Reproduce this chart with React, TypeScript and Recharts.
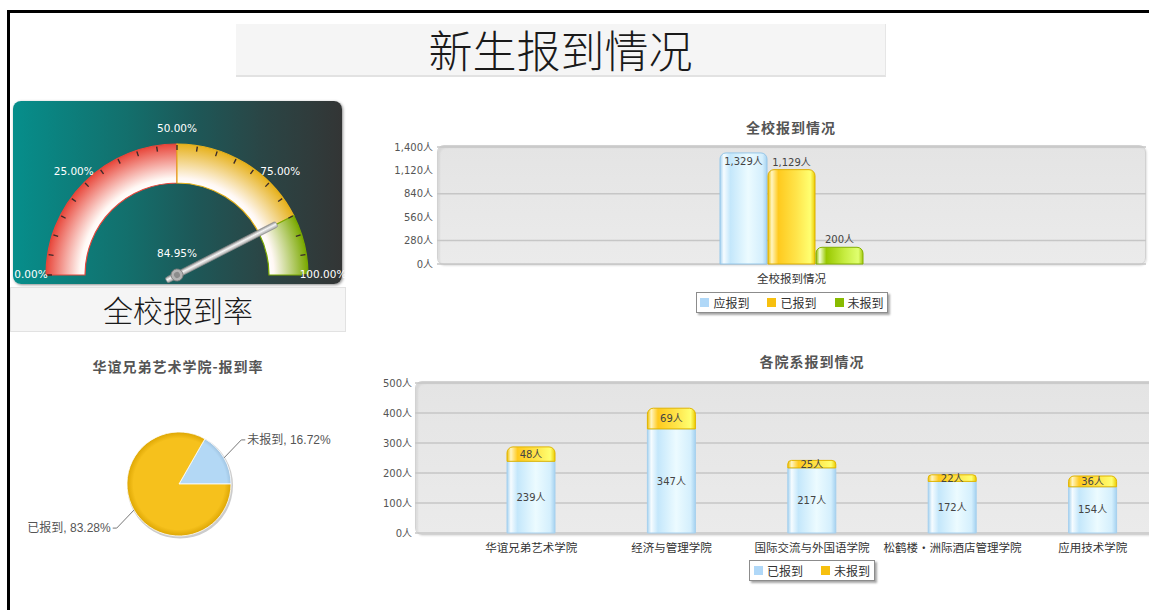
import React from 'react';
import {
  PieChart, Pie, Cell, BarChart, Bar, XAxis, YAxis, CartesianGrid, LabelList, Legend,
} from 'recharts';

// ---------- data ----------
const PAGE_TITLE = '新生报到情况';
const GAUGE_TITLE = '全校报到率';
const GAUGE_VALUE = 84.95;
const GAUGE_BAND_VALUES = [50, 35, 15];
const GAUGE_BAND_COLORS = ['#e8463a', '#e6b11c', '#7aa900'];
const GAUGE_TICK_VALUES = [0, 5, 10, 15, 20, 25, 30, 35, 40, 45, 50, 55, 60, 65, 70, 75, 80, 85, 90, 95, 100];
const GAUGE_LABELS = ['0.00%', '25.00%', '50.00%', '75.00%', '100.00%'];

const PIE_TITLE = '华谊兄弟艺术学院-报到率';
const PIE_NAMES = ['未报到', '已报到'];
const PIE_VALUES = [16.72, 83.28];

const OVERALL_TITLE = '全校报到情况';
const OVERALL_CATEGORIES = ['全校报到情况'];
const OVERALL_SERIES = ['应报到', '已报到', '未报到'];
const OVERALL_EXPECTED = [1329];
const OVERALL_REGISTERED = [1129];
const OVERALL_MISSING = [200];
const OVERALL_TICKS = [0, 280, 560, 840, 1120, 1400];
const OVERALL_LEGEND_COLORS = ['#b0d8f8', '#f7c00f', '#88bb00'];

const COLLEGE_TITLE = '各院系报到情况';
const COLLEGES = ['华谊兄弟艺术学院', '经济与管理学院', '国际交流与外国语学院', '松鹤楼·洲际酒店管理学院', '应用技术学院'];
const COLLEGE_SERIES = ['已报到', '未报到'];
const COLLEGE_REGISTERED = [239, 347, 217, 172, 154];
const COLLEGE_MISSING = [48, 69, 25, 22, 36];
const COLLEGE_TICKS = [0, 100, 200, 300, 400, 500];
const COLLEGE_LEGEND_COLORS = ['#b0d8f8', '#f7c00f'];

// ---------- derived tables ----------
const gaugeBands = GAUGE_BAND_VALUES.map((v, i) => ({ name: `band${i}`, value: v }));
const TICK_W = 0.35;
const tickPieData: { value: number; tick: number | null }[] = [];
GAUGE_TICK_VALUES.forEach((t, i) => {
  tickPieData.push({ value: TICK_W, tick: t });
  if (i < GAUGE_TICK_VALUES.length - 1) {
    tickPieData.push({ value: GAUGE_TICK_VALUES[i + 1] - t - TICK_W, tick: null });
  }
});
const needleData = [
  { value: GAUGE_VALUE - 0.5 },
  { value: 1 },
  { value: 100 - GAUGE_VALUE - 0.5 },
];
const pieData = PIE_NAMES.map((n, i) => ({ name: n, value: PIE_VALUES[i] }));
const overallData = OVERALL_CATEGORIES.map((c, i) => ({
  name: c,
  [OVERALL_SERIES[0]]: OVERALL_EXPECTED[i],
  [OVERALL_SERIES[1]]: OVERALL_REGISTERED[i],
  [OVERALL_SERIES[2]]: OVERALL_MISSING[i],
}));
const collegeData = COLLEGES.map((c, i) => ({
  name: c,
  [COLLEGE_SERIES[0]]: COLLEGE_REGISTERED[i],
  [COLLEGE_SERIES[1]]: COLLEGE_MISSING[i],
}));

// ---------- helpers ----------
const RAD = Math.PI / 180;
const polar = (cx: number, cy: number, r: number, a: number) => ({
  x: cx + r * Math.cos(-a * RAD),
  y: cy + r * Math.sin(-a * RAD),
});
const NUM_FONT = "'DejaVu Sans', 'Noto Sans CJK SC', sans-serif";
const CJK_FONT = "'Noto Sans CJK SC', 'DejaVu Sans', sans-serif";
const fmtPeople = (v: any) => `${Number(v).toLocaleString('en-US')}人`;
const ZERO_MARGIN = { top: 0, right: 0, bottom: 0, left: 0 };

const renderTickLabel = (props: any) => {
  const d = tickPieData[props.index];
  if (!d || d.tick === null || d.tick % 25 !== 0) return null;
  const p = polar(props.cx, props.cy, 146, props.midAngle);
  return (
    <text key={`tl${props.index}`} x={p.x} y={p.y - 1} textAnchor="middle" dominantBaseline="central"
      fill="#ffffff" fontSize={10.5} fontFamily={NUM_FONT}>
      {GAUGE_LABELS[d.tick / 25]}
    </text>
  );
};

const renderNeedle = (props: any) => {
  if (props.index !== 1) return null;
  const { cx, cy, midAngle } = props;
  return (
    <g key="needle">
      <text x={cx} y={cy - 22} textAnchor="middle" dominantBaseline="central" fill="#ffffff"
        fontSize={10.5} fontFamily={NUM_FONT}>{`${GAUGE_VALUE.toFixed(2)}%`}</text>
      <g transform={`translate(${cx},${cy}) rotate(${-midAngle})`}>
        <rect x={-12} y={-3} width={124} height={6} rx={2} fill="url(#needleGrad)" stroke="#8a8a8a" strokeWidth={0.6} />
        <circle r={6} fill="#b4b4b4" stroke="#7a7a7a" strokeWidth={0.8} />
        <circle r={3} fill="#8c8c8c" />
      </g>
    </g>
  );
};

const renderPieLabel = (props: any) => {
  const { cx, cy, midAngle, outerRadius, index } = props;
  const p0 = polar(cx, cy, outerRadius, midAngle);
  const p1 = polar(cx, cy, outerRadius + 20, midAngle);
  const up = p1.y < cy;
  const y1 = p1.y + (up ? -8 : 8);
  const right = Math.cos(-midAngle * RAD) >= 0;
  const x2 = p1.x + (right ? 4 : -4);
  return (
    <g key={`pl${index}`}>
      <polyline points={`${p0.x},${p0.y} ${p1.x},${y1} ${x2},${y1}`} fill="none" stroke="#777" strokeWidth={1} />
      <text x={x2 + (right ? 2 : -2)} y={y1} textAnchor={right ? 'start' : 'end'} dominantBaseline="central"
        fill="#555" fontSize={12} fontFamily="'Liberation Sans', 'Noto Sans CJK SC', sans-serif">
        {`${PIE_NAMES[index]}, ${PIE_VALUES[index].toFixed(2)}%`}
      </text>
    </g>
  );
};

const LegendBox = ({ names, colors, width }: { names: string[]; colors: string[]; width: number }) => (
  <div style={{
    display: 'flex', alignItems: 'center', justifyContent: 'center', gap: 18, height: 21, width,
    border: '1px solid #8c8c8c', boxShadow: '2px 2px 2px rgba(0,0,0,0.35)', background: '#fff',
    fontFamily: CJK_FONT, fontSize: 12, color: '#333', boxSizing: 'border-box',
  }}>
    {names.map((n, i) => (
      <div key={n} style={{ display: 'flex', alignItems: 'center' }}>
        <span style={{ display: 'inline-block', width: 9, height: 9, background: colors[i], marginRight: 4 }} />
        <span>{n}</span>
      </div>
    ))}
  </div>
);

const BarGradients = () => (
  <defs>
    <linearGradient id="gBlue" x1="0" y1="0" x2="1" y2="0">
      <stop offset="0" stopColor="#a6d2f0" />
      <stop offset="0.08" stopColor="#f6fcff" />
      <stop offset="0.22" stopColor="#c4e7fb" />
      <stop offset="0.6" stopColor="#ecfbff" />
      <stop offset="0.9" stopColor="#d4effd" />
      <stop offset="1" stopColor="#a6d2f0" />
    </linearGradient>
    <linearGradient id="gYellow" x1="0" y1="0" x2="1" y2="0">
      <stop offset="0" stopColor="#efbf00" />
      <stop offset="0.08" stopColor="#fff5c0" />
      <stop offset="0.22" stopColor="#ffca1e" />
      <stop offset="0.6" stopColor="#ffe44a" />
      <stop offset="0.9" stopColor="#ffff70" />
      <stop offset="1" stopColor="#eccc00" />
    </linearGradient>
    <linearGradient id="gGreen" x1="0" y1="0" x2="1" y2="0">
      <stop offset="0" stopColor="#8cb800" />
      <stop offset="0.08" stopColor="#f2ffd0" />
      <stop offset="0.22" stopColor="#98c800" />
      <stop offset="0.6" stopColor="#c6ec40" />
      <stop offset="0.9" stopColor="#e0ff70" />
      <stop offset="1" stopColor="#a4c810" />
    </linearGradient>
  </defs>
);

const plotBg = (left: number, top: number, width: number, height: number): React.CSSProperties => ({
  position: 'absolute', left, top, width, height, borderRadius: 7, boxSizing: 'border-box',
  background: 'linear-gradient(#e4e4e4, #ebebeb)', border: '1px solid #d2d2d2',
  boxShadow: 'inset 2px 2px 2px rgba(0,0,0,0.06), 1px 1px 2px rgba(0,0,0,0.12)',
});

const titleStyle = (left: number, top: number, width: number): React.CSSProperties => ({
  position: 'absolute', left, top, width, textAlign: 'center', fontFamily: CJK_FONT,
  fontWeight: 'bold', fontSize: 14, letterSpacing: 1, color: '#555', lineHeight: '18px',
});

export default function App() {
  const GCX = 177;
  const GCY = 180;
  return (
    <div style={{ position: 'relative', width: 1149, height: 610, overflow: 'hidden', background: '#fff' }}>
      <style>{'body{margin:0;overflow:hidden}'}</style>
      <div style={{ position: 'absolute', left: 7, top: 10, width: 2000, height: 2000, borderTop: '3px solid #000', borderLeft: '3px solid #000' }} />

      {/* page title */}
      <div style={{
        position: 'absolute', left: 236, top: 24, width: 650, height: 53, background: '#f5f5f5',
        borderBottom: '2px solid #e2e2e2', borderRight: '1px solid #e6e6e6', boxSizing: 'border-box',
        textAlign: 'center', fontFamily: CJK_FONT, fontWeight: 300, fontSize: 44, lineHeight: '51px', color: '#1a1a1a',
      }}>{PAGE_TITLE}</div>

      {/* gauge */}
      <div style={{
        position: 'absolute', left: 13, top: 101, width: 329, height: 183, borderRadius: 8,
        background: 'linear-gradient(to right, #068e8b 0%, #136f6c 35%, #1d5858 55%, #2a4646 75%, #333535 100%)',
        boxShadow: '1px 1px 3px rgba(0,0,0,0.45)',
      }} />
      <div style={{ position: 'absolute', left: 0, top: 95 }}>
        <PieChart width={360} height={195} margin={ZERO_MARGIN}>
          <defs>
            {GAUGE_BAND_COLORS.map((c, i) => (
              <radialGradient key={c} id={`band${i}`} gradientUnits="userSpaceOnUse" cx={GCX} cy={GCY} r={131}>
                <stop offset="0.7" stopColor="#ffffff" />
                <stop offset="0.74" stopColor="#fff8f4" />
                <stop offset="1" stopColor={c} />
              </radialGradient>
            ))}
            <linearGradient id="needleGrad" x1="0" y1="0" x2="0" y2="1">
              <stop offset="0" stopColor="#8e8e8e" />
              <stop offset="0.45" stopColor="#f6f6f6" />
              <stop offset="1" stopColor="#a2a2a2" />
            </linearGradient>
          </defs>
          <Pie data={gaugeBands} dataKey="value" cx={GCX} cy={GCY} startAngle={180} endAngle={0}
            innerRadius={92} outerRadius={131} isAnimationActive={false}>
            {gaugeBands.map((b, i) => (
              <Cell key={b.name} fill={`url(#band${i})`} stroke={GAUGE_BAND_COLORS[i]} strokeWidth={1.2} />
            ))}
          </Pie>
          <Pie data={tickPieData} dataKey="value" cx={GCX} cy={GCY}
            startAngle={180 + (TICK_W / 2) * 1.8} endAngle={-(TICK_W / 2) * 1.8}
            innerRadius={125} outerRadius={130} isAnimationActive={false}
            label={renderTickLabel} labelLine={false}>
            {tickPieData.map((d, i) => (
              <Cell key={`t${i}`} fill={d.tick === null ? 'transparent' : '#3a2a2a'} stroke="none" />
            ))}
          </Pie>
          <Pie data={needleData} dataKey="value" cx={GCX} cy={GCY} startAngle={180} endAngle={0}
            innerRadius={0} outerRadius={20} isAnimationActive={false}
            label={renderNeedle} labelLine={false}>
            {needleData.map((d, i) => (
              <Cell key={`n${i}`} fill="transparent" stroke="none" />
            ))}
          </Pie>
        </PieChart>
      </div>
      <div style={{
        position: 'absolute', left: 10, top: 287, width: 336, height: 45, background: '#f5f5f5',
        border: '1px solid #e2e2e2', boxSizing: 'border-box', textAlign: 'center',
        fontFamily: CJK_FONT, fontWeight: 300, fontSize: 30, lineHeight: '43px', color: '#1a1a1a',
      }}>{GAUGE_TITLE}</div>

      {/* college pie */}
      <div style={titleStyle(28, 357, 300)}>{PIE_TITLE}</div>
      <div style={{ position: 'absolute', left: 0, top: 345 }}>
        <PieChart width={360} height={240} margin={ZERO_MARGIN}>
          <defs>
            <radialGradient id="pieYellow" gradientUnits="userSpaceOnUse" cx={179} cy={139} r={53}>
              <stop offset="0.86" stopColor="#f6c11c" />
              <stop offset="1" stopColor="#d9a200" />
            </radialGradient>
            <radialGradient id="pieBlue" gradientUnits="userSpaceOnUse" cx={179} cy={139} r={53}>
              <stop offset="0.9" stopColor="#b3d8f5" />
              <stop offset="1" stopColor="#9cbfdc" />
            </radialGradient>
          </defs>
          <Pie data={[{ value: 1 }]} dataKey="value" cx={180} cy={140.5} outerRadius={53}
            isAnimationActive={false} stroke="none" fill="#cccccc" />
          <Pie data={pieData} dataKey="value" cx={179} cy={139} startAngle={0} endAngle={360}
            outerRadius={52} isAnimationActive={false} label={renderPieLabel} labelLine={false}>
            {pieData.map((d, i) => (
              <Cell key={d.name} fill={i === 0 ? 'url(#pieBlue)' : 'url(#pieYellow)'} stroke="#ffffff" strokeWidth={0.8} />
            ))}
          </Pie>
        </PieChart>
      </div>

      {/* overall bar chart */}
      <div style={titleStyle(641, 118, 300)}>{OVERALL_TITLE}</div>
      <div style={plotBg(437, 145, 709, 120)} />
      <div style={{ position: 'absolute', left: 380, top: 110 }}>
        <BarChart width={770} height={210} data={overallData} barGap={1}
          margin={{ top: 37, right: 4, bottom: 0, left: 0 }}>
          <BarGradients />
          <CartesianGrid vertical={false} stroke="#c6c6c6" strokeWidth={1.5} />
          <XAxis dataKey="name" height={56} axisLine={false} tickLine={false} tickMargin={5}
            tick={{ fontSize: 11.5, fill: '#333', fontFamily: CJK_FONT }} />
          <YAxis width={57} domain={[0, 1400]} ticks={OVERALL_TICKS} axisLine={false} tickLine={false}
            tickSize={2} tickMargin={2} tickFormatter={fmtPeople}
            tick={{ fontSize: 10, fill: '#555', fontFamily: NUM_FONT }} />
          <Bar dataKey={OVERALL_SERIES[0]} barSize={47} fill="url(#gBlue)" stroke="#95c6e8" radius={[6, 6, 0, 0]} isAnimationActive={false}>
            <LabelList dataKey={OVERALL_SERIES[0]} position="insideTop" offset={5} formatter={fmtPeople}
              fill="#444" fontSize={10} fontFamily={NUM_FONT} />
          </Bar>
          <Bar dataKey={OVERALL_SERIES[1]} barSize={47} fill="url(#gYellow)" stroke="#dcae00" radius={[6, 6, 0, 0]} isAnimationActive={false}>
            <LabelList dataKey={OVERALL_SERIES[1]} position="top" offset={4} formatter={fmtPeople}
              fill="#444" fontSize={10} fontFamily={NUM_FONT} />
          </Bar>
          <Bar dataKey={OVERALL_SERIES[2]} barSize={47} fill="url(#gGreen)" stroke="#84b000" radius={[6, 6, 0, 0]} isAnimationActive={false}>
            <LabelList dataKey={OVERALL_SERIES[2]} position="top" offset={4} formatter={fmtPeople}
              fill="#444" fontSize={10} fontFamily={NUM_FONT} />
          </Bar>
          <Legend layout="horizontal" verticalAlign="middle" align="center"
            wrapperStyle={{ left: 316, top: 182, width: 192, height: 22 }}
            content={() => <LegendBox names={OVERALL_SERIES} colors={OVERALL_LEGEND_COLORS} width={192} />} />
        </BarChart>
      </div>

      {/* college bar chart */}
      <div style={titleStyle(662, 352, 300)}>{COLLEGE_TITLE}</div>
      <div style={plotBg(415, 381, 760, 154)} />
      <div style={{ position: 'absolute', left: 370, top: 345 }}>
        <BarChart width={805} height={250} data={collegeData}
          margin={{ top: 38, right: 0, bottom: 0, left: 0 }}>
          <BarGradients />
          <CartesianGrid vertical={false} stroke="#c6c6c6" strokeWidth={1.5} />
          <XAxis dataKey="name" height={62} axisLine={false} tickLine={false} tickMargin={5}
            padding={{ left: 46, right: 12 }} interval={0}
            tick={{ fontSize: 11.5, fill: '#333', fontFamily: CJK_FONT }} />
          <YAxis width={45} domain={[0, 500]} ticks={COLLEGE_TICKS} axisLine={false} tickLine={false}
            tickSize={1} tickMargin={2} tickFormatter={fmtPeople}
            tick={{ fontSize: 10, fill: '#555', fontFamily: NUM_FONT }} />
          <Bar dataKey={COLLEGE_SERIES[0]} stackId="s" barSize={48} fill="url(#gBlue)" stroke="#a6d0ee" isAnimationActive={false}>
            <LabelList dataKey={COLLEGE_SERIES[0]} position="center" formatter={fmtPeople}
              fill="#444" fontSize={10} fontFamily={NUM_FONT} />
          </Bar>
          <Bar dataKey={COLLEGE_SERIES[1]} stackId="s" barSize={48} fill="url(#gYellow)" stroke="#e0b400" radius={[6, 6, 0, 0]} isAnimationActive={false}>
            <LabelList dataKey={COLLEGE_SERIES[1]} position="center" formatter={fmtPeople}
              fill="#444" fontSize={10} fontFamily={NUM_FONT} />
          </Bar>
          <Legend layout="horizontal" verticalAlign="middle" align="center"
            wrapperStyle={{ left: 379, top: 215, width: 126, height: 22 }}
            content={() => <LegendBox names={COLLEGE_SERIES} colors={COLLEGE_LEGEND_COLORS} width={126} />} />
        </BarChart>
      </div>
    </div>
  );
}
